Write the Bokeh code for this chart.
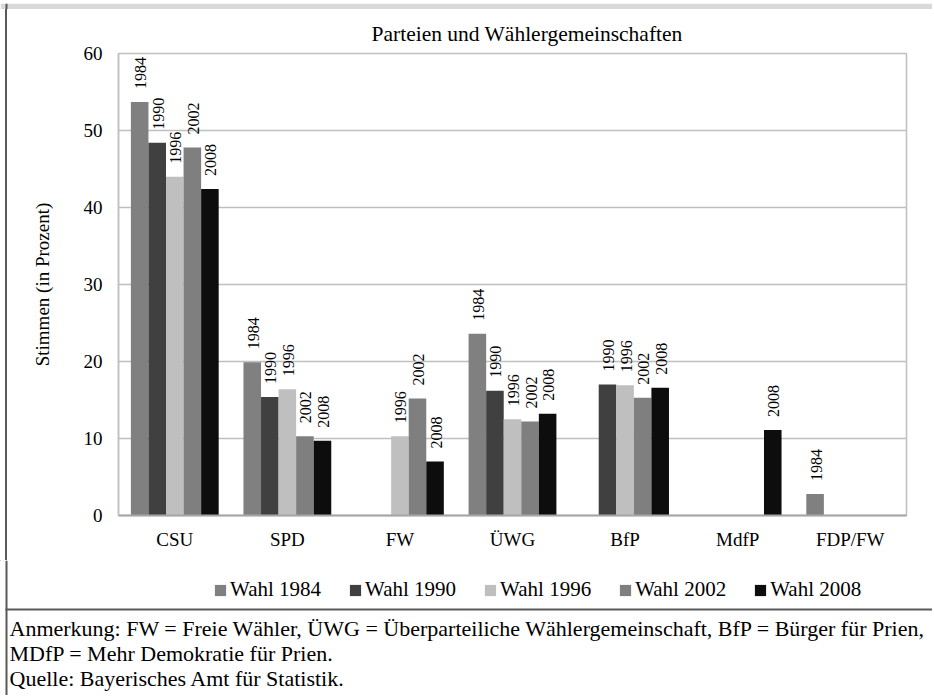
import numpy as np
from bokeh.plotting import figure
from bokeh.layouts import column, row
from bokeh.models import (FactorRange, ColumnDataSource, Legend, LegendItem,
                          FixedTicker, Range1d, Title, Spacer)
from bokeh.transform import dodge
from bokeh.embed import file_html
from bokeh.resources import INLINE
from bokeh.core.properties import value

# ---------------- data ----------------
categories = ["CSU", "SPD", "FW", "ÜWG", "BfP", "MdfP", "FDP/FW"]
years = ["1984", "1990", "1996", "2002", "2008"]
wahl_1984 = [53.7, 19.9, None, 23.6, None, None, 2.8]
wahl_1990 = [48.4, 15.4, None, 16.2, 17.0, None, None]
wahl_1996 = [44.0, 16.4, 10.3, 12.5, 16.9, None, None]
wahl_2002 = [47.8, 10.3, 15.2, 12.2, 15.3, None, None]
wahl_2008 = [42.4, 9.7, 7.0, 13.2, 16.6, 11.1, None]
series = [wahl_1984, wahl_1990, wahl_1996, wahl_2002, wahl_2008]
legend_labels = ["Wahl 1984", "Wahl 1990", "Wahl 1996", "Wahl 2002", "Wahl 2008"]
series_colors = ["#808080", "#404040", "#bfbfbf", "#7f7f7f", "#0d0d0d"]
y_ticks = [0, 10, 20, 30, 40, 50, 60]

title_text = "Parteien und Wählergemeinschaften"
y_title = "Stimmen (in Prozent)"
footer_lines = [
    "Anmerkung: FW = Freie Wähler, ÜWG = Überparteiliche Wählergemeinschaft, BfP = Bürger für Prien,",
    "MDfP = Mehr Demokratie für Prien.",
    "Quelle: Bayerisches Amt für Statistik.",
]

# ---------------- layout constants (pixels) ----------------
W = 932
H_HEAD, H_MID, H_FOOT = 9, 551, 135
Y_MID, Y_FOOT = H_HEAD, H_HEAD + H_MID
BORDER_X = 7
FL, FR, FT, FB = 118, 906, 53, 515
YMAX = 60
FONT = "Liberation Serif"
FRAME_COL = "#595959"


def canvas_fig(width, height, y0):
    """A figure whose frame is its whole canvas, in page pixel coordinates."""
    f = figure(width=width, height=height, x_range=Range1d(0, width),
               y_range=Range1d(y0 + height, y0), output_backend="svg",
               toolbar_location=None, min_border=0, x_axis_type=None,
               y_axis_type=None, title=None)
    f.grid.visible = False
    f.outline_line_color = None
    f.background_fill_color = "white"
    f.border_fill_color = "white"
    return f


# ---------------- header band ----------------
head = canvas_fig(W, H_HEAD, 0)
head.quad(left=[0], right=[W], top=[0], bottom=[7], fill_color="#d9d9d9", line_color=None)
head.quad(left=[0], right=[W], top=[7], bottom=[9], fill_color="#404040", line_color=None)
head.quad(left=[5], right=[7], top=[0], bottom=[H_HEAD], fill_color=FRAME_COL, line_color=None)

# ---------------- left border strip ----------------
strip = Spacer(width=BORDER_X, height=H_MID,
               styles={"background": "linear-gradient(90deg, #ffffff 0px, #ffffff 5px, %s 5px, %s 7px)" % (FRAME_COL, FRAME_COL)})

# ---------------- main chart ----------------
p = figure(x_range=FactorRange(factors=categories), y_range=Range1d(0, YMAX),
           width=W - BORDER_X, height=H_MID, output_backend="svg", toolbar_location=None,
           min_border_left=FL - BORDER_X, min_border_right=W - FR,
           min_border_top=FT - Y_MID, min_border_bottom=Y_FOOT - FB)
p.title = Title(text=title_text, align="left", offset=253, standoff=15,
                text_font=FONT, text_font_size="21.5px", text_font_style="normal",
                text_color="black")
p.background_fill_color = "white"
p.border_fill_color = "white"
p.outline_line_color = "#bfbfbf"
p.outline_line_width = 1.5

bw = 0.156
for i, (yr, vals, col) in enumerate(zip(years, series, series_colors)):
    off = (i - 2) * bw
    cats = [c for c, v in zip(categories, vals) if v is not None]
    vv = [v for v in vals if v is not None]
    src = ColumnDataSource(dict(cat=cats, val=vv, lab=[yr] * len(vv)))
    p.vbar(x=dodge("cat", off, range=p.x_range), top="val", width=bw,
           source=src, fill_color=col, line_color=None)
    p.text(x=dodge("cat", off, range=p.x_range), y="val", text="lab", source=src,
           angle=np.pi / 2, text_align="left", text_baseline="middle",
           x_offset=1, y_offset=-13, text_font=value(FONT),
           text_font_size="16px", text_color="black")

p.xgrid.grid_line_color = None
p.ygrid.grid_line_color = "#bfbfbf"
p.ygrid.grid_line_width = 1.5
p.yaxis.ticker = FixedTicker(ticks=y_ticks)
for ax in (p.xaxis[0], p.yaxis[0]):
    ax.major_tick_line_color = None
    ax.minor_tick_line_color = None
    ax.major_label_text_font = FONT
    ax.major_label_text_font_size = "19px"
    ax.major_label_text_color = "black"
p.yaxis.axis_line_color = "#bfbfbf"
p.yaxis.axis_line_width = 1.5
p.yaxis.major_label_standoff = 10
p.yaxis.axis_label = y_title
p.yaxis.axis_label_text_font = FONT
p.yaxis.axis_label_text_font_size = "19px"
p.yaxis.axis_label_text_font_style = "normal"
p.yaxis.axis_label_text_color = "black"
p.yaxis.axis_label_standoff = 28
p.xaxis.axis_line_color = "#a6a6a6"
p.xaxis.axis_line_width = 2
p.xaxis.major_label_standoff = 7

# ---------------- footer with legend ----------------
foot = canvas_fig(W, H_FOOT, Y_FOOT)
foot.quad(left=[5], right=[7], top=[Y_FOOT], bottom=[Y_FOOT + H_FOOT], fill_color=FRAME_COL, line_color=None)
foot.quad(left=[5], right=[W], top=[608], bottom=[610], fill_color=FRAME_COL, line_color=None)
leg_renderers = []
for col in series_colors:
    # off-canvas swatch renderer, used only to give the legend its colour
    r = foot.vbar(x=[-1000], top=[-1000], width=1, fill_color=col, line_color=None)
    leg_renderers.append(r)
legend = Legend(items=[LegendItem(label=l, renderers=[r]) for l, r in zip(legend_labels, leg_renderers)],
                orientation="horizontal", location=(213, 93),
                padding=0, margin=0, spacing=27, glyph_width=14, glyph_height=14,
                label_standoff=3, label_text_font=FONT, label_text_font_size="21px",
                label_text_color="black", border_line_color=None, background_fill_alpha=0)
foot.add_layout(legend, "center")
for k, line in enumerate(footer_lines):
    foot.text(x=[9], y=[628 + 25 * k], text=[line], text_align="left", text_baseline="middle",
              text_font=value(FONT), text_font_size="22px", text_color="black")

layout = column(head, row(strip, p), foot)
open("out.html", "w").write(file_html(layout, INLINE))
